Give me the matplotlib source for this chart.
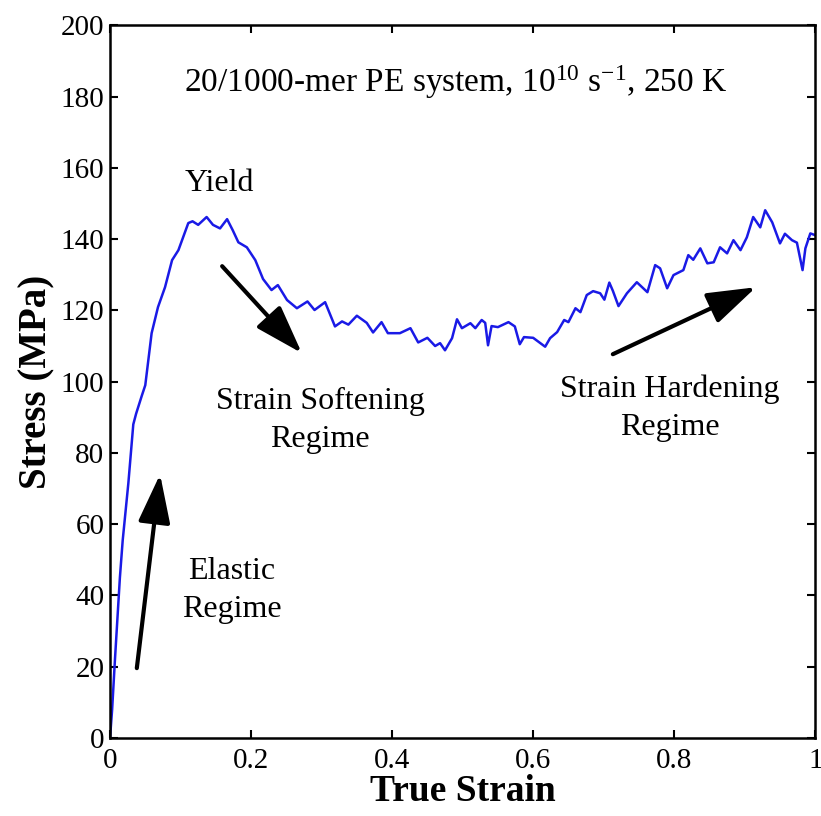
import numpy as np
from matplotlib import pyplot as plt

# stress-strain curve
strain = [0, 0.003, 0.007, 0.014, 0.018, 0.026, 0.033, 0.037, 0.045, 0.050,
          0.059, 0.068, 0.078, 0.088, 0.097, 0.111, 0.117, 0.125, 0.137, 0.146,
          0.156, 0.166, 0.174, 0.182, 0.194, 0.206, 0.217, 0.229, 0.238, 0.251,
          0.265, 0.280, 0.290, 0.305, 0.319, 0.329, 0.338, 0.350, 0.364, 0.373,
          0.385, 0.394, 0.411, 0.426, 0.437, 0.450, 0.461, 0.468, 0.475, 0.485,
          0.492, 0.499, 0.511, 0.518, 0.527, 0.532, 0.536, 0.541, 0.550, 0.565,
          0.574, 0.581, 0.587, 0.600, 0.617, 0.624, 0.634, 0.644, 0.650, 0.660,
          0.667, 0.676, 0.685, 0.695, 0.701, 0.708, 0.713, 0.721, 0.733, 0.747,
          0.762, 0.773, 0.780, 0.790, 0.799, 0.813, 0.820, 0.827, 0.837, 0.847,
          0.856, 0.865, 0.875, 0.884, 0.894, 0.903, 0.912, 0.922, 0.929, 0.939,
          0.950, 0.957, 0.967, 0.974, 0.982, 0.986, 0.993, 1.0]
stress = [0, 8, 22, 45, 55.5, 71.5, 88, 91, 96, 99,
          113.6, 120.9, 126.5, 134.1, 136.9, 144.5, 145, 144, 146.2, 144,
          143, 145.6, 142.5, 139.1, 137.7, 134.1, 128.8, 125.7, 127.1, 122.9,
          120.6, 122.5, 120.1, 122.3, 115.5, 116.9, 116.0, 118.5, 116.5, 113.8,
          116.7, 113.6, 113.6, 115.0, 111.0, 112.3, 110.0, 110.8, 108.8, 112.2,
          117.5, 115.0, 116.4, 115.0, 117.3, 116.5, 110.2, 115.6, 115.3, 116.7,
          115.5, 110.5, 112.5, 112.3, 109.8, 112.2, 113.9, 117.3, 116.7, 120.6,
          119.5, 124.3, 125.4, 124.8, 123.0, 127.8, 125.5, 121.2, 124.8, 127.9,
          125.1, 132.7, 131.8, 126.2, 129.9, 131.3, 135.5, 134.2, 137.4, 133.2,
          133.5, 137.7, 136.0, 139.7, 136.9, 140.5, 146.2, 143.3, 148.1, 144.7,
          138.8, 141.5, 139.7, 139.0, 131.3, 137.4, 141.6, 141.1]

xticks = [0, 0.2, 0.4, 0.6, 0.8, 1]
xticklabels = ['0', '0.2', '0.4', '0.6', '0.8', '1']
yticks = [0, 20, 40, 60, 80, 100, 120, 140, 160, 180, 200]

plt.rcParams['font.family'] = ['Liberation Serif', 'DejaVu Serif']
plt.rcParams['mathtext.fontset'] = 'custom'
plt.rcParams['mathtext.rm'] = 'Liberation Serif'
plt.rcParams['mathtext.it'] = 'Liberation Serif:italic'

fig = plt.figure(figsize=(8.21, 8.16), dpi=100)
ax = fig.add_axes([0.134, 0.0956, 0.859, 0.8734])

ax.plot(strain, stress, color='#1a1ae6', lw=1.8)

ax.set_xlim(0, 1)
ax.set_ylim(0, 200)
ax.set_xticks(xticks)
ax.set_xticklabels(xticklabels)
ax.set_yticks(yticks)
ax.tick_params(direction='in', top=True, right=True, length=6, width=1.5,
               labelsize=21, pad=4)
ax.tick_params(axis='x', pad=7)
for s in ax.spines.values():
    s.set_linewidth(1.8)

ax.set_xlabel('True Strain', fontsize=27, fontweight='bold', labelpad=0)
ax.set_ylabel('Stress (MPa)', fontsize=28, fontweight='bold', labelpad=4)

ax.text(0.49, 184, r'20/1000-mer PE system, 10$^{10}$ s$^{\mathrm{-1}}$, 250 K',
        ha='center', va='center', fontsize=24)
ax.text(0.155, 155.5, 'Yield', ha='center', va='center', fontsize=23)
ax.text(0.298, 89, 'Strain Softening\nRegime', ha='center', va='center',
        fontsize=23, linespacing=1.4)
ax.text(0.794, 92.5, 'Strain Hardening\nRegime', ha='center', va='center',
        fontsize=23, linespacing=1.4)
ax.text(0.173, 41.5, 'Elastic\nRegime', ha='center', va='center',
        fontsize=23, linespacing=1.4)

arrow = dict(arrowstyle='-|>,head_length=1.0,head_width=0.33', lw=3,
             color='k', mutation_scale=30, shrinkA=0, shrinkB=0)
ax.annotate('', xy=(0.071, 74), xytext=(0.038, 19.6), arrowprops=arrow)
ax.annotate('', xy=(0.272, 108), xytext=(0.159, 132.4), arrowprops=arrow)
ax.annotate('', xy=(0.916, 126.5), xytext=(0.713, 107.7), arrowprops=arrow)

fig.savefig('out.png', dpi=100)
